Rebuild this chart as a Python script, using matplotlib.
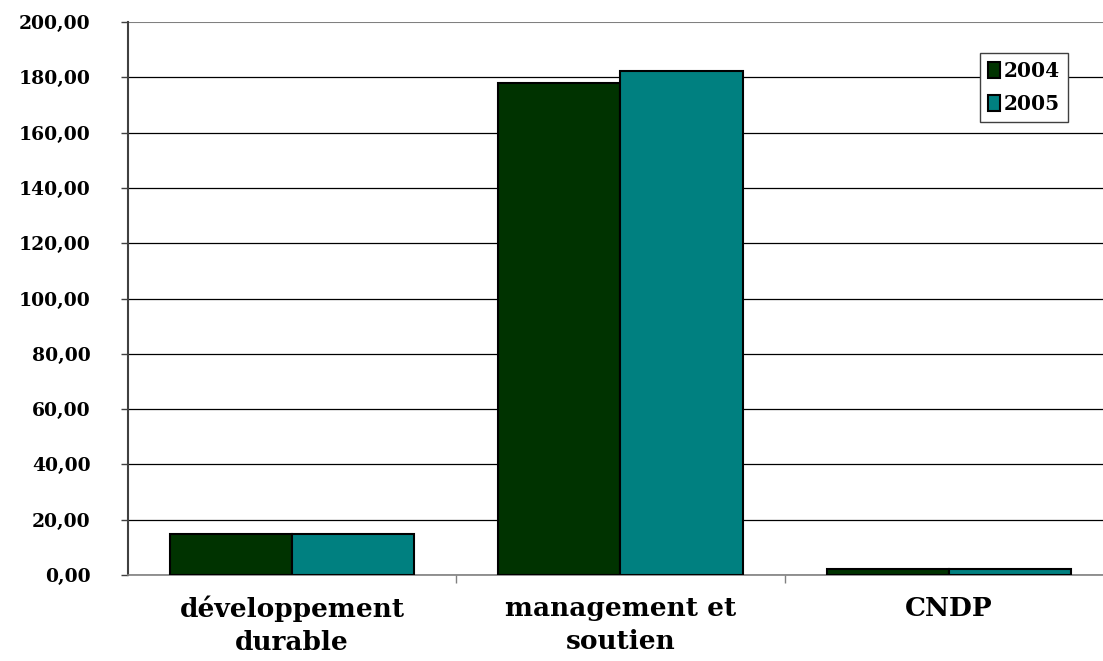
import matplotlib
matplotlib.use("Agg")
import matplotlib.pyplot as plt
import numpy as np

categories = ["développement\ndurable", "management et\nsoutien", "CNDP"]
series_names = ["2004", "2005"]
values_2004 = [15.0, 177.8, 2.2]
values_2005 = [15.0, 182.2, 2.2]
yticks = [0, 20, 40, 60, 80, 100, 120, 140, 160, 180, 200]
ytick_labels = ["0,00", "20,00", "40,00", "60,00", "80,00", "100,00",
                "120,00", "140,00", "160,00", "180,00", "200,00"]
colors = ["#003300", "#008080"]

W, H = 1103, 661
fig = plt.figure(figsize=(W / 100, H / 100), dpi=100)
left, right, top, bottom = 128, 1113, 22, 575
ax = fig.add_axes([left / W, 1 - bottom / H, (right - left) / W, (bottom - top) / H])

x = np.arange(len(categories))
bw = 0.372
ax.bar(x - bw / 2, values_2004, width=bw, color=colors[0], edgecolor="black",
       linewidth=1.5, label=series_names[0], zorder=3)
ax.bar(x + bw / 2, values_2005, width=bw, color=colors[1], edgecolor="black",
       linewidth=1.5, label=series_names[1], zorder=3)

ax.set_xlim(-0.5, 2.5)
ax.set_ylim(0, 200)
ax.set_yticks(yticks)
ax.set_yticklabels(ytick_labels, fontfamily="DejaVu Serif", fontweight="bold", fontsize=13.5)
ax.yaxis.grid(True, color="black", linewidth=0.9, zorder=0)
gl = ax.get_ygridlines()
gl[-1].set_color("#808080")
gl[-1].set_linewidth(1.5)
ax.set_axisbelow(True)

ax.set_xticks([0.5, 1.5])
ax.set_xticklabels([])
ax.tick_params(axis="x", direction="out", length=6, color="#808080", width=1)
ax.tick_params(axis="y", direction="out", length=5, color="#404040", width=1, pad=22)

for i, lab in enumerate(categories):
    ax.text(x[i], -7.5, lab, ha="center", va="top", fontsize=19, fontweight="bold",
            fontfamily="DejaVu Serif", linespacing=1.4, transform=ax.transData,
            clip_on=False)

for s in ["top", "right"]:
    ax.spines[s].set_visible(False)
ax.spines["left"].set_color("#404040")
ax.spines["left"].set_linewidth(1.5)
ax.spines["bottom"].set_color("#808080")
ax.spines["bottom"].set_linewidth(1.2)

leg = ax.legend(loc="upper left", bbox_to_anchor=((980 - left) / (right - left), 1 - (53 - top) / (bottom - top)),
                frameon=True, fancybox=False, edgecolor="#404040", framealpha=1,
                prop={"family": "DejaVu Serif", "weight": "bold", "size": 14.5},
                handlelength=0.6, handleheight=0.8, handletextpad=0.2,
                borderpad=0.4, labelspacing=0.65, borderaxespad=0)
leg.get_frame().set_linewidth(1.0)

fig.savefig("out.png", dpi=100)
